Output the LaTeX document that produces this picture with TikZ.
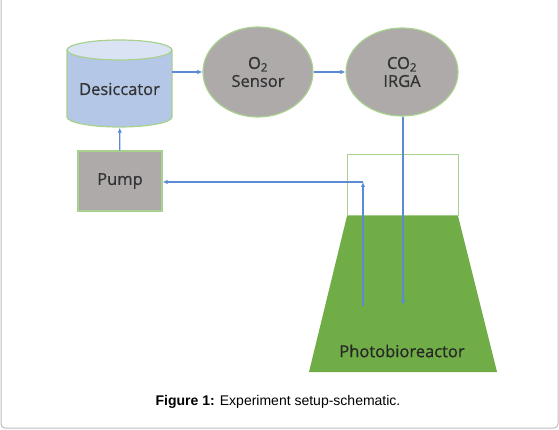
\documentclass[tikz,border=0pt]{standalone}
\usepackage{fontspec}
\setmainfont{Open Sans}
\newfontfamily\unitfont[FakeBold=0.6]{Open Sans}
\newfontfamily\capfont{Liberation Sans}
\usetikzlibrary{arrows.meta,shapes.geometric}

\definecolor{unitgray}{HTML}{AEAAAA}
\definecolor{rimgreen}{HTML}{A9D18E}
\definecolor{culture}{HTML}{70AD47}
\definecolor{bodyblue}{HTML}{B4C7E7}
\definecolor{capblue}{HTML}{DAE3F3}
\definecolor{pipeblue}{HTML}{5B8BD6}
\definecolor{labelgray}{HTML}{333333}

\tikzset{
    labeltext/.style={text=labelgray, font=\unitfont\fontsize{16.5}{18}\selectfont, align=center},
    unit/.style={labeltext, fill=unitgray, draw=rimgreen, line width=1.2pt, inner sep=0pt},
    sensor/.style={unit, ellipse},
    pipe/.style={draw=pipeblue, line width=1.2pt, -{Latex[length=5pt,width=4.5pt]}}
}

\begin{document}
\begin{tikzpicture}[x=1pt, y=-1pt]
    \useasboundingbox (0,0) rectangle (559,430);
    % frame
    \draw[gray!50, line width=1pt, rounded corners=4pt] (1,-10) rectangle (558,428);

    % Desiccator
    \fill[bodyblue] (67,50) -- (67,117) arc[start angle=180, end angle=0, x radius=52.5, y radius=10] -- (172,50) -- cycle;
    \fill[capblue] (119.5,50) ellipse [x radius=52.5, y radius=10];
    \draw[rimgreen, line width=1.2pt] (67,50) -- (67,117) arc[start angle=180, end angle=0, x radius=52.5, y radius=10] -- (172,50);
    \draw[rimgreen, line width=1.2pt] (119.5,50) ellipse [x radius=52.5, y radius=10];
    \node[minimum width=105pt, minimum height=87pt] (desic) at (119.5,84) {};
    \node[labeltext] (desiclabel) at (119.5,89) {Desiccator};

    % Sensors
    \node[sensor, minimum width=110pt, minimum height=90pt] (otwo) at (258,72) {O\textsubscript{2}\\Sensor};
    \node[sensor, minimum width=112pt, minimum height=88pt] (irga) at (402,72) {CO\textsubscript{2}\\IRGA};

    % Pump
    \node[unit, minimum width=84pt, minimum height=60pt] (pump) at (120,181) {Pump};

    % Photobioreactor
    \draw[rimgreen, line width=1pt] (347,155) rectangle (458,216);
    \fill[culture] (347,216) -- (458,216) -- (497,372) -- (309,372) -- cycle;
    \node[labeltext, text=black!85] (pbr) at (402,351) {Photobioreactor};
    \coordinate (inlet) at (403,305);
    \coordinate (outlet) at (363,306);
    \coordinate (bend) at (363,182);

    % Gas loop
    \draw[pipe] (desic.east |- otwo) -- (otwo);
    \draw[pipe] (otwo) -- (irga);
    \draw[pipe] (irga.south -| inlet) -- (inlet);
    \draw[pipe] (outlet) -- (bend);
    \draw[pipe] (bend) -- (pump.east |- bend);
    \draw[pipe] (pump) -- (desic);

    % Caption
    \node[font=\capfont\fontsize{14}{16}\selectfont] (caption) at (278,402) {\textbf{Figure 1:} Experiment setup-schematic.};
\end{tikzpicture}
\end{document}
